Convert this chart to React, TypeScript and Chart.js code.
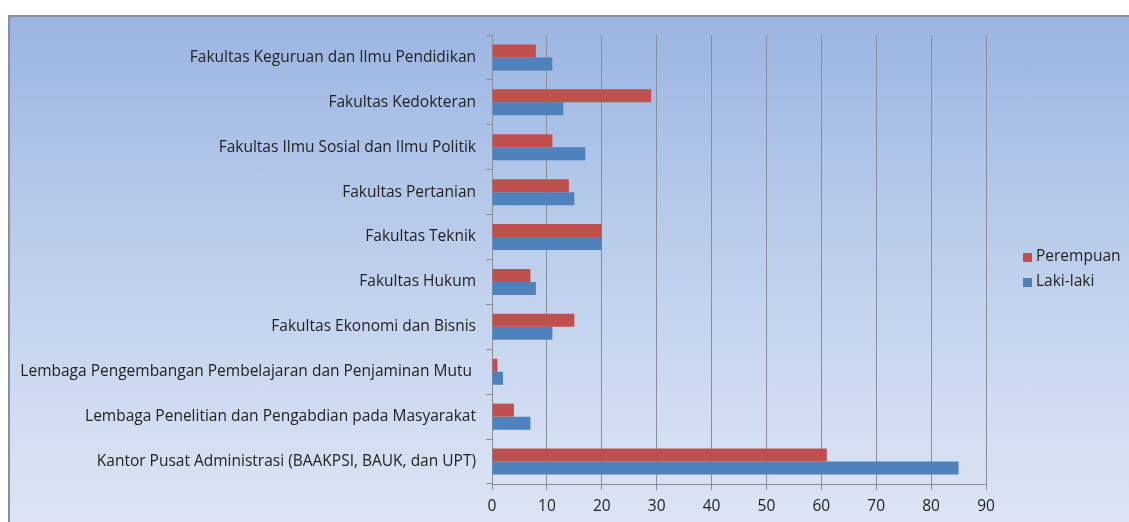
import React, { useEffect, useRef } from "react";
import { Chart, registerables } from "chart.js";

Chart.register(...registerables);

const categories = [
  "Fakultas Keguruan dan Ilmu Pendidikan",
  "Fakultas Kedokteran",
  "Fakultas Ilmu Sosial dan Ilmu Politik",
  "Fakultas Pertanian",
  "Fakultas Teknik",
  "Fakultas Hukum",
  "Fakultas Ekonomi dan Bisnis",
  "Lembaga Pengembangan Pembelajaran dan Penjaminan Mutu ",
  "Lembaga Penelitian dan Pengabdian pada Masyarakat",
  "Kantor Pusat Administrasi (BAAKPSI, BAUK, dan UPT)",
];

const perempuan = [8, 29, 11, 14, 20, 7, 15, 1, 4, 61];
const lakiLaki = [11, 13, 17, 15, 20, 8, 11, 2, 7, 85];

const seriesNames = ["Perempuan", "Laki-laki"];
const seriesColors = ["#c0504d", "#4f81bd"];

const FONT = "'Open Sans', sans-serif";
const FONT_SIZE = 15.5;
const TEXT_COLOR = "#222";

const legendPlugin = {
  id: "customLegend",
  afterDraw(chart: any) {
    const ctx = chart.ctx;
    const x0 = 1013;
    const y0 = 240;
    const gap = 25;
    ctx.save();
    ctx.font = `${FONT_SIZE}px ${FONT}`;
    ctx.textBaseline = "middle";
    chart.data.datasets.forEach((ds: any, i: number) => {
      const y = y0 + i * gap;
      ctx.fillStyle = ds.backgroundColor;
      ctx.fillRect(x0, y - 4, 9, 9);
      ctx.fillStyle = TEXT_COLOR;
      ctx.fillText(ds.label, x0 + 13, y);
    });
    ctx.restore();
  },
};

export default function App() {
  const ref = useRef<HTMLCanvasElement | null>(null);

  useEffect(() => {
    if (!ref.current) return;
    const chart = new Chart(ref.current, {
      type: "bar",
      data: {
        labels: categories,
        datasets: [
          {
            label: seriesNames[0],
            data: perempuan,
            backgroundColor: seriesColors[0],
            barPercentage: 1,
            categoryPercentage: 0.58,
          },
          {
            label: seriesNames[1],
            data: lakiLaki,
            backgroundColor: seriesColors[1],
            barPercentage: 1,
            categoryPercentage: 0.58,
          },
        ],
      },
      options: {
        indexAxis: "y",
        animation: false,
        responsive: false,
        maintainAspectRatio: false,
        layout: { padding: { top: 18, right: 143, bottom: 0, left: 0 } },
        plugins: {
          legend: { display: false },
          tooltip: { enabled: false },
        },
        scales: {
          x: {
            min: 0,
            max: 90,
            ticks: {
              stepSize: 10,
              color: TEXT_COLOR,
              font: { family: FONT, size: FONT_SIZE },
              padding: 7,
            },
            grid: {
              color: "#8a8e96",
              lineWidth: 1,
              drawTicks: true,
              tickLength: 6,
              tickColor: "#8a8e96",
            },
            border: { display: true, color: "#8a8e96" },
            afterFit(scale: any) {
              scale.height = 38;
              scale.paddingRight = 0;
              scale.paddingLeft = 0;
            },
          },
          y: {
            ticks: {
              color: TEXT_COLOR,
              font: { family: FONT, size: FONT_SIZE },
              padding: 10,
              autoSkip: false,
            },
            grid: {
              drawOnChartArea: false,
              drawTicks: true,
              tickLength: 6,
              tickColor: "#8a8e96",
              offset: true,
            },
            border: { display: true, color: "#8a8e96" },
            afterFit(scale: any) {
              scale.width = 482;
              scale.paddingTop = 0;
              scale.paddingBottom = 0;
            },
          },
        },
      },
      plugins: [legendPlugin],
    });
    return () => chart.destroy();
  }, []);

  return (
    <div
      style={{
        position: "fixed",
        left: 8,
        top: 15,
        width: 1121,
        height: 520,
        borderTop: "2px solid #8a8f9a",
        borderLeft: "2px solid #8a8f9a",
        background: "linear-gradient(to bottom, #9ab5e2 0%, #c3d3ee 55%, #dee6f5 100%)",
        overflow: "hidden",
      }}
    >
      <canvas ref={ref} width={1119} height={505} style={{ display: "block" }} />
    </div>
  );
}
